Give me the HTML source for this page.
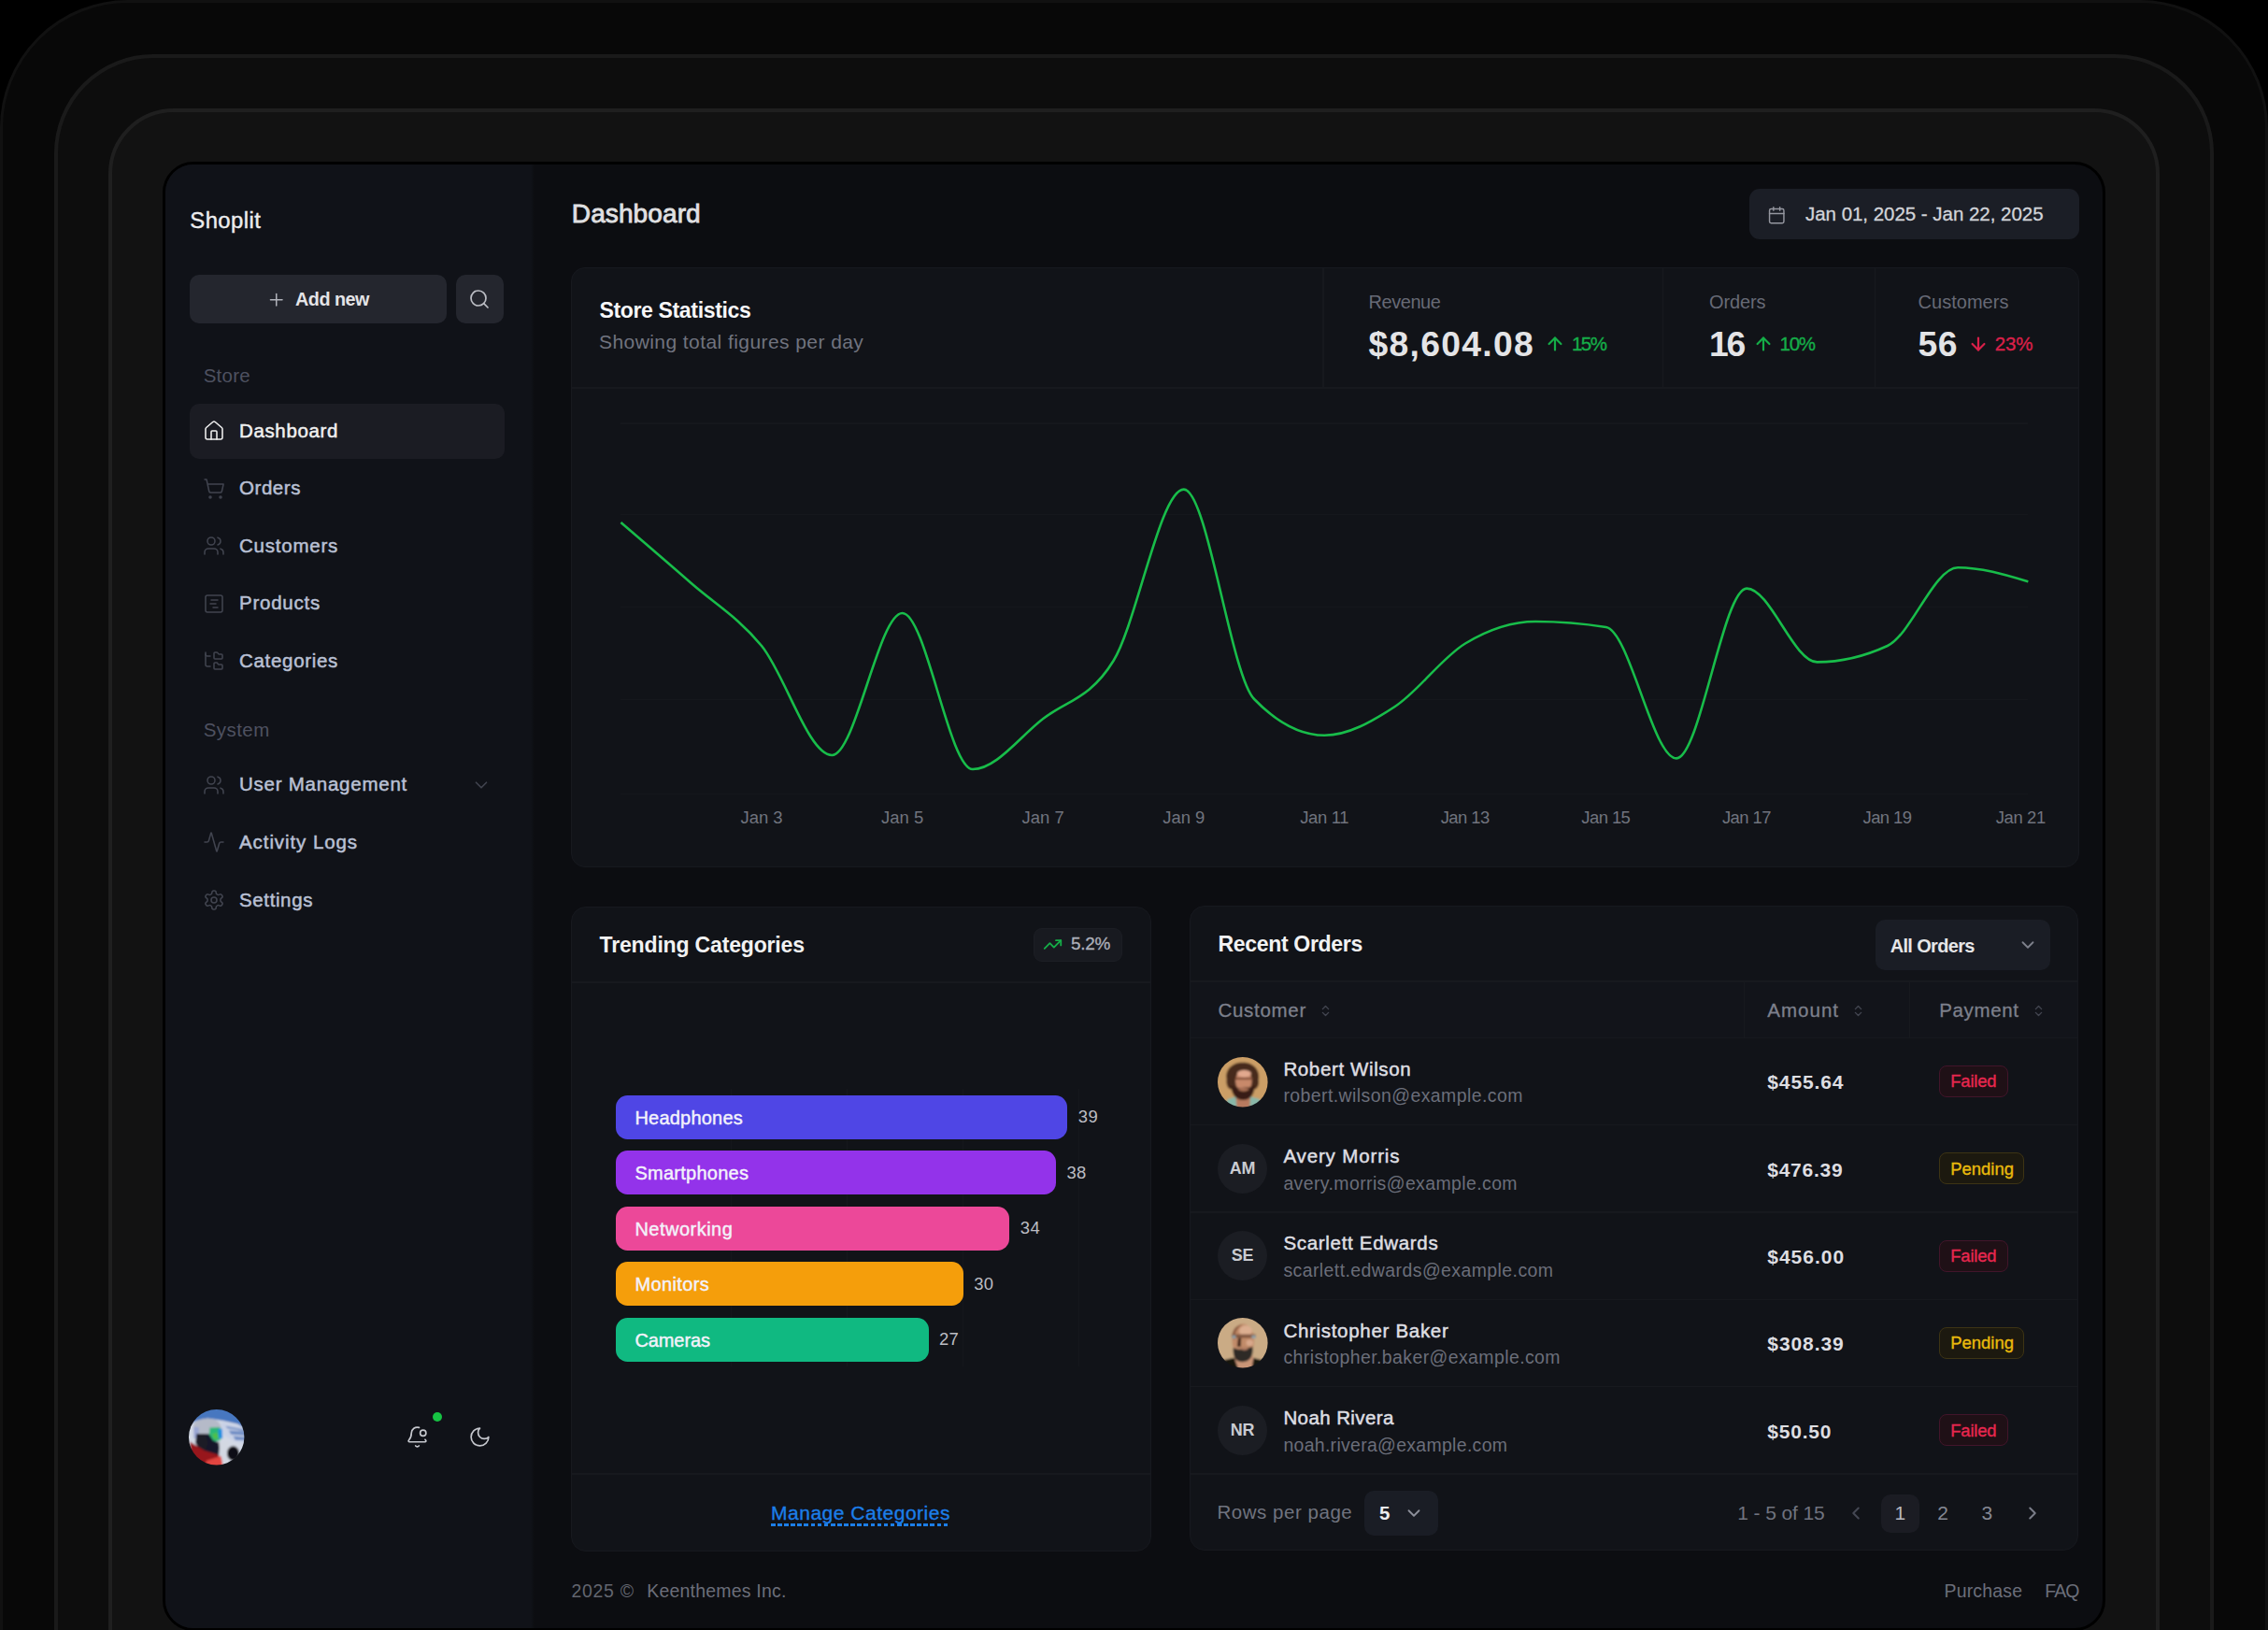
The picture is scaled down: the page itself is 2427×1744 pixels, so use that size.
<!DOCTYPE html>
<html lang="en"><head><meta charset="utf-8"><title>Shoplit Dashboard</title>
<style>
html,body{margin:0;padding:0;background:#000;width:2427px;height:1744px;overflow:hidden;}
body{position:relative;font-family:"Liberation Sans", sans-serif;}
#root{position:absolute;left:0;top:0;width:2427px;height:1744px;overflow:hidden;background:#000;}
.a{position:absolute;box-sizing:border-box;}
.t{position:absolute;line-height:1;white-space:nowrap;font-family:"Liberation Sans", sans-serif;}
svg{display:block;overflow:visible;}
</style></head>
<body>
<div id="root">
<div class="a" style="left:0.0px;top:0.0px;width:2427.0px;height:2000.0px;background:#080808;border-radius:137px;border:3.8px solid #111111;"></div>
<div class="a" style="left:58.0px;top:58.0px;width:2311.0px;height:2000.0px;background:#0d0d0d;border-radius:106px;border:4.2px solid #1a1a1a;"></div>
<div class="a" style="left:116.0px;top:116.0px;width:2195.0px;height:2000.0px;background:#121212;border-radius:70px;border:4.2px solid #1f1f1f;"></div>
<div class="a" style="left:173.5px;top:173.4px;width:2079.8px;height:1571.4px;border:3.5px solid #000;border-radius:33px;background:#0c0d11;overflow:hidden;"><div class="a" style="left:0;top:0;width:395px;height:100%;background:linear-gradient(90deg,#101218 0,#101218 391px,#0c0d11 395px);"></div></div>
<div class="t" style="top:223.6px;font-size:23.88px;font-weight:400;color:#ededee;letter-spacing:0.43px;-webkit-text-stroke:0.4px #ededee;left:203.3px;">Shoplit</div>
<div class="a" style="left:203.3px;top:293.8px;width:275.0px;height:52.4px;background:#24262e;border-radius:10px;"></div>
<div class="a" style="left:487.7px;top:293.8px;width:51.6px;height:52.4px;background:#24262e;border-radius:10px;"></div>
<svg class="a" style="left:285.2px;top:309.9px;" width="21.5" height="21.5" viewBox="0 0 24 24" fill="none" stroke="#b0b2ba" stroke-width="1.7" stroke-linecap="round" stroke-linejoin="round"><path d="M5 12h14"/><path d="M12 5v14"/></svg>
<div class="t" style="top:310.9px;font-size:19.78px;font-weight:700;color:#e4e4e7;letter-spacing:-0.48px;left:316.0px;">Add new</div>
<svg class="a" style="left:501.3px;top:308.2px;" width="24" height="24" viewBox="0 0 24 24" fill="none" stroke="#bcbec5" stroke-width="1.7" stroke-linecap="round" stroke-linejoin="round"><circle cx="11" cy="11" r="8"/><path d="m21 21-4.3-4.3"/></svg>
<div class="t" style="top:391.5px;font-size:20.5px;font-weight:400;color:#4e5160;letter-spacing:0.26px;left:217.7px;">Store</div>
<div class="a" style="left:203.0px;top:431.5px;width:337.0px;height:59.0px;background:#1b1c23;border-radius:10px;"></div>
<svg class="a" style="left:217.1px;top:449.0px;" width="24" height="24" viewBox="0 0 24 24" fill="none" stroke="#f0f0f0" stroke-width="1.55" stroke-linecap="round" stroke-linejoin="round"><path d="M15 21v-8a1 1 0 0 0-1-1h-4a1 1 0 0 0-1 1v8"/><path d="M3 10a2 2 0 0 1 .709-1.528l7-5.999a2 2 0 0 1 2.582 0l7 5.999A2 2 0 0 1 21 10v9a2 2 0 0 1-2 2H5a2 2 0 0 1-2-2z"/></svg>
<div class="t" style="top:450.7px;font-size:20.5px;font-weight:400;color:#f0f0f0;letter-spacing:0.63px;-webkit-text-stroke:0.5px #f0f0f0;left:256.0px;">Dashboard</div>
<svg class="a" style="left:217.1px;top:510.6px;" width="24" height="24" viewBox="0 0 24 24" fill="none" stroke="#41444f" stroke-width="1.55" stroke-linecap="round" stroke-linejoin="round"><circle cx="8" cy="21" r="1"/><circle cx="19" cy="21" r="1"/><path d="M2.05 2.05h2l2.66 12.42a2 2 0 0 0 2 1.58h9.78a2 2 0 0 0 1.95-1.57l1.65-7.43H5.12"/></svg>
<div class="t" style="top:512.3px;font-size:20.5px;font-weight:400;color:#b9c0d4;letter-spacing:0.56px;-webkit-text-stroke:0.5px #b9c0d4;left:256.0px;">Orders</div>
<svg class="a" style="left:217.1px;top:572.1px;" width="24" height="24" viewBox="0 0 24 24" fill="none" stroke="#41444f" stroke-width="1.55" stroke-linecap="round" stroke-linejoin="round"><path d="M16 21v-2a4 4 0 0 0-4-4H6a4 4 0 0 0-4 4v2"/><circle cx="9" cy="7" r="4"/><path d="M22 21v-2a4 4 0 0 0-3-3.87"/><path d="M16 3.13a4 4 0 0 1 0 7.75"/></svg>
<div class="t" style="top:573.8px;font-size:20.5px;font-weight:400;color:#b9c0d4;letter-spacing:0.77px;-webkit-text-stroke:0.5px #b9c0d4;left:256.0px;">Customers</div>
<svg class="a" style="left:217.1px;top:633.7px;" width="24" height="24" viewBox="0 0 24 24" fill="none" stroke="#41444f" stroke-width="1.55" stroke-linecap="round" stroke-linejoin="round"><rect width="18" height="18" x="3" y="3" rx="2"/><path d="M9 8h7"/><path d="M8 12h6"/><path d="M11 16h5"/></svg>
<div class="t" style="top:635.4px;font-size:20.5px;font-weight:400;color:#b9c0d4;letter-spacing:0.76px;-webkit-text-stroke:0.5px #b9c0d4;left:256.0px;">Products</div>
<svg class="a" style="left:217.1px;top:695.2px;" width="24" height="24" viewBox="0 0 24 24" fill="none" stroke="#41444f" stroke-width="1.55" stroke-linecap="round" stroke-linejoin="round"><path d="M20 10a1 1 0 0 0 1-1V6a1 1 0 0 0-1-1h-2.5a1 1 0 0 1-.8-.4l-.9-1.2A1 1 0 0 0 15 3h-2a1 1 0 0 0-1 1v5a1 1 0 0 0 1 1Z"/><path d="M20 21a1 1 0 0 0 1-1v-3a1 1 0 0 0-1-1h-2.9a1 1 0 0 1-.88-.55l-.42-.85a1 1 0 0 0-.92-.6H13a1 1 0 0 0-1 1v5a1 1 0 0 0 1 1Z"/><path d="M3 5a2 2 0 0 0 2 2h3"/><path d="M3 3v13a2 2 0 0 0 2 2h3"/></svg>
<div class="t" style="top:696.9px;font-size:20.5px;font-weight:400;color:#b9c0d4;letter-spacing:0.69px;-webkit-text-stroke:0.5px #b9c0d4;left:256.0px;">Categories</div>
<svg class="a" style="left:217.1px;top:827.7px;" width="24" height="24" viewBox="0 0 24 24" fill="none" stroke="#41444f" stroke-width="1.55" stroke-linecap="round" stroke-linejoin="round"><path d="M16 21v-2a4 4 0 0 0-4-4H6a4 4 0 0 0-4 4v2"/><circle cx="9" cy="7" r="4"/><path d="M22 21v-2a4 4 0 0 0-3-3.87"/><path d="M16 3.13a4 4 0 0 1 0 7.75"/></svg>
<div class="t" style="top:829.4px;font-size:20.5px;font-weight:400;color:#b9c0d4;letter-spacing:0.76px;-webkit-text-stroke:0.5px #b9c0d4;left:256.0px;">User Management</div>
<svg class="a" style="left:217.1px;top:889.3px;" width="24" height="24" viewBox="0 0 24 24" fill="none" stroke="#41444f" stroke-width="1.55" stroke-linecap="round" stroke-linejoin="round"><path d="M22 12h-2.48a2 2 0 0 0-1.93 1.46l-2.35 8.36a.25.25 0 0 1-.48 0L9.24 2.18a.25.25 0 0 0-.48 0l-2.35 8.36A2 2 0 0 1 4.49 12H2"/></svg>
<div class="t" style="top:891.0px;font-size:20.5px;font-weight:400;color:#b9c0d4;letter-spacing:0.92px;-webkit-text-stroke:0.5px #b9c0d4;left:256.0px;">Activity Logs</div>
<svg class="a" style="left:217.1px;top:951.0px;" width="24" height="24" viewBox="0 0 24 24" fill="none" stroke="#41444f" stroke-width="1.55" stroke-linecap="round" stroke-linejoin="round"><path d="M12.22 2h-.44a2 2 0 0 0-2 2v.18a2 2 0 0 1-1 1.73l-.43.25a2 2 0 0 1-2 0l-.15-.08a2 2 0 0 0-2.73.73l-.22.38a2 2 0 0 0 .73 2.73l.15.1a2 2 0 0 1 1 1.72v.51a2 2 0 0 1-1 1.74l-.15.09a2 2 0 0 0-.73 2.73l.22.38a2 2 0 0 0 2.73.73l.15-.08a2 2 0 0 1 2 0l.43.25a2 2 0 0 1 1 1.73V20a2 2 0 0 0 2 2h.44a2 2 0 0 0 2-2v-.18a2 2 0 0 1 1-1.73l.43-.25a2 2 0 0 1 2 0l.15.08a2 2 0 0 0 2.73-.73l.22-.39a2 2 0 0 0-.73-2.73l-.15-.08a2 2 0 0 1-1-1.74v-.5a2 2 0 0 1 1-1.74l.15-.09a2 2 0 0 0 .73-2.73l-.22-.38a2 2 0 0 0-2.73-.73l-.15.08a2 2 0 0 1-2 0l-.43-.25a2 2 0 0 1-1-1.73V4a2 2 0 0 0-2-2z"/><circle cx="12" cy="12" r="3"/></svg>
<div class="t" style="top:952.7px;font-size:20.5px;font-weight:400;color:#b9c0d4;letter-spacing:0.62px;-webkit-text-stroke:0.5px #b9c0d4;left:256.0px;">Settings</div>
<div class="t" style="top:770.5px;font-size:20.5px;font-weight:400;color:#4e5160;letter-spacing:0.44px;left:217.7px;">System</div>
<svg class="a" style="left:504.3px;top:829.0px;" width="22" height="22" viewBox="0 0 24 24" fill="none" stroke="#41444f" stroke-width="1.8" stroke-linecap="round" stroke-linejoin="round"><path d="m6 9 6 6 6-6"/></svg>
<svg class="a" style="left:202.3px;top:1508.3px" width="59.4" height="59.4" viewBox="0 0 100 100">
<defs><clipPath id="cpa"><circle cx="50" cy="50" r="50"/></clipPath><filter id="bla" x="-10%" y="-10%" width="120%" height="120%"><feGaussianBlur stdDeviation="1.6"/></filter></defs>
<g clip-path="url(#cpa)"><g filter="url(#bla)">
<rect x="-5" y="-5" width="110" height="110" fill="#d3d9e5"/>
<path d="M-5 -5H105V36L88 26 62 20 34 16 14 20-5 30Z" fill="#4777c0"/>
<path d="M58 22 105 34V64L78 56 60 44Z" fill="#c9d2e6"/>
<path d="M72 38 105 40v7L76 45Z M80 48 105 50v6L84 55Z M66 30 100 36v3L70 34Z" fill="#6e8cc4"/>
<path d="M8 30C10 18 30 14 46 18 58 22 60 34 58 42L30 46 10 46Z" fill="#b5bac8"/>
<path d="M9 32h9v20H9Z" fill="#9aa6d4"/>
<path d="M38 33 56 32 60 50 56 56 44 58 36 50Z" fill="#2cb878"/>
<path d="M42 44 52 42 54 52 46 54Z" fill="#4fc04a"/>
<path d="M53 35h7l1 17h-7Z" fill="#1b8fe2"/>
<path d="M14 44 36 44 44 56 56 60 54 84 22 78 12 60Z" fill="#15192a"/>
<path d="M14 44 30 44 34 60 30 74 16 66Z" fill="#1d1f26"/>
<path d="M2 58 28 74 54 82 62 105H4Z" fill="#98171a"/>
<path d="M32 92 58 84 78 105H28Z" fill="#e2453f"/>
<path d="M54 60 72 56 76 105H62Z" fill="#d3d8e2"/>
<ellipse cx="80" cy="79" rx="11" ry="13" fill="#0f0f14"/>
</g></g></svg>
<svg class="a" style="left:434.0px;top:1525.0px;" width="25" height="25" viewBox="0 0 24 24" fill="none" stroke="#c6c8ce" stroke-width="1.6" stroke-linecap="round" stroke-linejoin="round"><path d="M10.268 21a2 2 0 0 0 3.464 0"/><path d="M13.916 2.314A6 6 0 0 0 6 8c0 4.499-1.411 5.956-2.74 7.327A1 1 0 0 0 4 17h16a1 1 0 0 0 .74-1.673 9 9 0 0 1-.585-.665"/><circle cx="18" cy="8" r="3"/></svg>
<div class="a" style="left:463.3px;top:1511.3px;width:9.4px;height:9.4px;background:#16c343;border-radius:5px;"></div>
<svg class="a" style="left:501.0px;top:1525.3px;" width="25" height="25" viewBox="0 0 24 24" fill="none" stroke="#c6c8ce" stroke-width="1.6" stroke-linecap="round" stroke-linejoin="round"><path d="M12 3a6 6 0 0 0 9 9 9 9 0 1 1-9-9Z"/></svg>
<div class="t" style="top:215.1px;font-size:28.08px;font-weight:400;color:#e0e0e2;letter-spacing:0.07px;-webkit-text-stroke:0.8px #e0e0e2;left:611.8px;">Dashboard</div>
<div class="a" style="left:1872.0px;top:202.2px;width:353.0px;height:53.6px;background:#1b1e26;border-radius:11px;"></div>
<svg class="a" style="left:1891.2px;top:219.6px;" width="20.5" height="20.5" viewBox="0 0 24 24" fill="none" stroke="#9597a0" stroke-width="1.7" stroke-linecap="round" stroke-linejoin="round"><path d="M8 2v4"/><path d="M16 2v4"/><rect width="18" height="18" x="3" y="4" rx="2"/><path d="M3 10h18"/></svg>
<div class="t" style="top:219.2px;font-size:20.5px;font-weight:400;color:#d2d4d9;letter-spacing:-0.03px;-webkit-text-stroke:0.3px #d2d4d9;left:1932.0px;">Jan 01, 2025 - Jan 22, 2025</div>
<div class="a" style="left:611.0px;top:285.5px;width:1614.0px;height:642.3px;background:#111318;border-radius:15px;border:1px solid #17191f;"></div>
<div class="a" style="left:612.0px;top:414.4px;width:1612.0px;height:1.2px;background:#17191e;"></div>
<div class="a" style="left:1415.4px;top:286.5px;width:1.2px;height:128.5px;background:#17191e;"></div>
<div class="a" style="left:1779.1px;top:286.5px;width:1.2px;height:128.5px;background:#17191e;"></div>
<div class="a" style="left:2006.1px;top:286.5px;width:1.2px;height:128.5px;background:#17191e;"></div>
<div class="t" style="top:320.7px;font-size:23.06px;font-weight:700;color:#f7f7f8;letter-spacing:-0.36px;left:641.4px;">Store Statistics</div>
<div class="t" style="top:355.4px;font-size:21.01px;font-weight:400;color:#70737f;letter-spacing:0.43px;left:641.0px;">Showing total figures per day</div>
<div class="t" style="top:313.0px;font-size:19.99px;font-weight:400;color:#676a76;letter-spacing:-0.46px;left:1464.6px;">Revenue</div>
<div class="t" style="top:350.3px;font-size:37.31px;font-weight:700;color:#e4e4e6;letter-spacing:1.27px;left:1464.6px;">$8,604.08</div>
<svg class="a" style="left:1653.0px;top:356.6px;" width="22" height="22" viewBox="0 0 24 24" fill="none" stroke="#15ad48" stroke-width="2.4" stroke-linecap="round" stroke-linejoin="round"><path d="m5 12 7-7 7 7"/><path d="M12 19V5"/></svg>
<div class="t" style="top:357.8px;font-size:20.5px;font-weight:400;color:#15ad48;letter-spacing:-1.54px;-webkit-text-stroke:0.35px #15ad48;left:1682.0px;">15%</div>
<div class="t" style="top:313.0px;font-size:19.99px;font-weight:400;color:#676a76;letter-spacing:-0.10px;left:1829.0px;">Orders</div>
<div class="t" style="top:350.3px;font-size:37.31px;font-weight:700;color:#e4e4e6;letter-spacing:-2.20px;left:1829.0px;">16</div>
<svg class="a" style="left:1875.5px;top:356.6px;" width="22" height="22" viewBox="0 0 24 24" fill="none" stroke="#15ad48" stroke-width="2.4" stroke-linecap="round" stroke-linejoin="round"><path d="m5 12 7-7 7 7"/><path d="M12 19V5"/></svg>
<div class="t" style="top:357.8px;font-size:20.5px;font-weight:400;color:#15ad48;letter-spacing:-1.34px;-webkit-text-stroke:0.35px #15ad48;left:1904.6px;">10%</div>
<div class="t" style="top:313.0px;font-size:19.99px;font-weight:400;color:#676a76;letter-spacing:0.04px;left:2052.5px;">Customers</div>
<div class="t" style="top:350.3px;font-size:37.31px;font-weight:700;color:#e4e4e6;letter-spacing:0.50px;left:2052.5px;">56</div>
<svg class="a" style="left:2105.7px;top:356.6px;" width="22" height="22" viewBox="0 0 24 24" fill="none" stroke="#d92049" stroke-width="2.4" stroke-linecap="round" stroke-linejoin="round"><path d="M12 5v14"/><path d="m19 12-7 7-7-7"/></svg>
<div class="t" style="top:357.8px;font-size:20.5px;font-weight:400;color:#d92049;letter-spacing:-0.08px;-webkit-text-stroke:0.35px #d92049;left:2134.7px;">23%</div>
<div class="a" style="left:664.4px;top:452.4px;width:1506.0px;height:1.2px;background:#15171c;"></div>
<div class="a" style="left:664.4px;top:549.9px;width:1506.0px;height:1.2px;background:#15171c;"></div>
<div class="a" style="left:664.4px;top:648.9px;width:1506.0px;height:1.2px;background:#15171c;"></div>
<div class="a" style="left:664.4px;top:747.9px;width:1506.0px;height:1.2px;background:#15171c;"></div>
<div class="a" style="left:664.4px;top:848.9px;width:1506.0px;height:1.2px;background:#15171c;"></div>
<svg class="a" style="left:0;top:0" width="2427" height="1744" viewBox="0 0 2427 1744"><path d="M664.4 559.0C689.5 580.5 714.6 602.0 739.7 624.0C764.8 646.0 789.9 660.3 815.0 691.0C840.1 721.7 865.2 808.0 890.3 808.0C915.4 808.0 940.5 656.0 965.6 656.0C990.7 656.0 1015.8 823.0 1040.9 823.0C1066.0 823.0 1091.1 788.3 1116.2 769.0C1141.3 749.7 1166.4 747.9 1191.5 707.0C1216.6 666.1 1241.7 523.6 1266.8 523.6C1291.9 523.6 1317.0 722.1 1342.1 748.0C1367.2 773.9 1392.3 786.8 1417.4 786.8C1442.5 786.8 1467.6 772.4 1492.7 756.0C1517.8 739.6 1542.9 703.7 1568.0 688.5C1593.1 673.3 1618.2 665.0 1643.3 665.0C1668.4 665.0 1693.5 667.0 1718.6 671.0C1743.7 675.0 1768.8 811.4 1793.9 811.4C1819.0 811.4 1844.1 629.6 1869.2 629.6C1894.3 629.6 1919.4 708.4 1944.5 708.4C1969.6 708.4 1994.7 702.6 2019.8 691.0C2044.9 679.4 2070.0 607.2 2095.1 607.2C2120.2 607.2 2145.3 614.8 2170.4 622.3" fill="none" stroke="#18bd4a" stroke-width="2.6" stroke-linecap="butt" stroke-linejoin="round"/></svg>
<div class="t" style="top:865.7px;font-size:18.45px;font-weight:400;color:#70737e;letter-spacing:0.02px;left:815.0px;transform:translateX(-50%);">Jan 3</div>
<div class="t" style="top:865.7px;font-size:18.45px;font-weight:400;color:#70737e;letter-spacing:0.02px;left:965.6px;transform:translateX(-50%);">Jan 5</div>
<div class="t" style="top:865.7px;font-size:18.45px;font-weight:400;color:#70737e;letter-spacing:0.02px;left:1116.2px;transform:translateX(-50%);">Jan 7</div>
<div class="t" style="top:865.7px;font-size:18.45px;font-weight:400;color:#70737e;letter-spacing:0.02px;left:1266.8px;transform:translateX(-50%);">Jan 9</div>
<div class="t" style="top:865.7px;font-size:18.45px;font-weight:400;color:#70737e;letter-spacing:-0.33px;left:1417.2px;transform:translateX(-50%);">Jan 11</div>
<div class="t" style="top:865.7px;font-size:18.45px;font-weight:400;color:#70737e;letter-spacing:-0.56px;left:1567.7px;transform:translateX(-50%);">Jan 13</div>
<div class="t" style="top:865.7px;font-size:18.45px;font-weight:400;color:#70737e;letter-spacing:-0.56px;left:1718.3px;transform:translateX(-50%);">Jan 15</div>
<div class="t" style="top:865.7px;font-size:18.45px;font-weight:400;color:#70737e;letter-spacing:-0.56px;left:1868.9px;transform:translateX(-50%);">Jan 17</div>
<div class="t" style="top:865.7px;font-size:18.45px;font-weight:400;color:#70737e;letter-spacing:-0.56px;left:2019.5px;transform:translateX(-50%);">Jan 19</div>
<div class="t" style="top:865.7px;font-size:18.45px;font-weight:400;color:#70737e;letter-spacing:-0.39px;left:2162.3px;transform:translateX(-50%);">Jan 21</div>
<div class="a" style="left:611.0px;top:969.5px;width:621.0px;height:690.0px;background:#111318;border-radius:16px;border:1px solid #17191f;"></div>
<div class="a" style="left:612.0px;top:1050.4px;width:619.0px;height:1.2px;background:#17191e;"></div>
<div class="a" style="left:612.0px;top:1576.4px;width:619.0px;height:1.2px;background:#17191e;"></div>
<div class="t" style="top:999.7px;font-size:23.06px;font-weight:700;color:#f2f2f3;letter-spacing:-0.19px;left:641.6px;">Trending Categories</div>
<div class="a" style="left:1106.2px;top:993.2px;width:95.2px;height:35.4px;background:#181a20;border-radius:9px;border:1px solid #1c1e24;"></div>
<svg class="a" style="left:1116.3px;top:1000.3px;" width="21" height="21" viewBox="0 0 24 24" fill="none" stroke="#15ad48" stroke-width="2.1" stroke-linecap="round" stroke-linejoin="round"><polyline points="22 7 13.5 15.5 8.5 10.5 2 17"/><polyline points="16 7 22 7 22 13"/></svg>
<div class="t" style="top:1001.3px;font-size:18.96px;font-weight:400;color:#adb0ba;letter-spacing:-0.29px;-webkit-text-stroke:0.3px #adb0ba;left:1146.0px;">5.2%</div>
<div class="a" style="left:782.2px;top:1165.0px;width:1.2px;height:297.0px;background:#15171c;"></div>
<div class="a" style="left:906.2px;top:1165.0px;width:1.2px;height:297.0px;background:#15171c;"></div>
<div class="a" style="left:1030.2px;top:1165.0px;width:1.2px;height:297.0px;background:#15171c;"></div>
<div class="a" style="left:1154.2px;top:1165.0px;width:1.2px;height:297.0px;background:#15171c;"></div>
<div class="a" style="left:658.8px;top:1172.0px;width:483.6px;height:47.1px;background:#4f46e5;border-radius:12.5px;"></div>
<div class="t" style="top:1185.9px;font-size:19.99px;font-weight:400;color:#f3f2fb;letter-spacing:0.22px;-webkit-text-stroke:0.45px #f3f2fb;left:679.4px;">Headphones</div>
<div class="t" style="top:1186.3px;font-size:18.45px;font-weight:400;color:#bcbdc3;letter-spacing:0.34px;left:1153.8px;">39</div>
<div class="a" style="left:658.8px;top:1231.4px;width:471.2px;height:47.1px;background:#9333ea;border-radius:12.5px;"></div>
<div class="t" style="top:1245.3px;font-size:19.99px;font-weight:400;color:#f3f2fb;letter-spacing:0.27px;-webkit-text-stroke:0.45px #f3f2fb;left:679.4px;">Smartphones</div>
<div class="t" style="top:1245.7px;font-size:18.45px;font-weight:400;color:#bcbdc3;letter-spacing:0.34px;left:1141.4px;">38</div>
<div class="a" style="left:658.8px;top:1290.8px;width:421.6px;height:47.1px;background:#ec4899;border-radius:12.5px;"></div>
<div class="t" style="top:1304.7px;font-size:19.99px;font-weight:400;color:#f3f2fb;letter-spacing:0.50px;-webkit-text-stroke:0.45px #f3f2fb;left:679.4px;">Networking</div>
<div class="t" style="top:1305.1px;font-size:18.45px;font-weight:400;color:#bcbdc3;letter-spacing:0.34px;left:1091.8px;">34</div>
<div class="a" style="left:658.8px;top:1350.2px;width:372.0px;height:47.1px;background:#f59e0b;border-radius:12.5px;"></div>
<div class="t" style="top:1364.1px;font-size:19.99px;font-weight:400;color:#f3f2fb;letter-spacing:0.38px;-webkit-text-stroke:0.45px #f3f2fb;left:679.4px;">Monitors</div>
<div class="t" style="top:1364.5px;font-size:18.45px;font-weight:400;color:#bcbdc3;letter-spacing:0.34px;left:1042.2px;">30</div>
<div class="a" style="left:658.8px;top:1409.6px;width:334.8px;height:47.1px;background:#10b981;border-radius:12.5px;"></div>
<div class="t" style="top:1423.5px;font-size:19.99px;font-weight:400;color:#f3f2fb;letter-spacing:-0.08px;-webkit-text-stroke:0.45px #f3f2fb;left:679.4px;">Cameras</div>
<div class="t" style="top:1423.9px;font-size:18.45px;font-weight:400;color:#bcbdc3;letter-spacing:0.34px;left:1005.0px;">27</div>
<div class="t" style="top:1608.1px;font-size:21.01px;font-weight:400;color:#1c7ee8;letter-spacing:0.51px;-webkit-text-stroke:0.35px #1c7ee8;left:825.0px;">Manage Categories</div>
<div class="a" style="left:825px;top:1630.4px;width:192px;height:2.2px;background:repeating-linear-gradient(90deg,#1c7ee8 0 4.6px,transparent 4.6px 7.1px);"></div>
<div class="a" style="left:1273.2px;top:969.0px;width:951.2px;height:690.4px;background:#111318;border-radius:16px;border:1px solid #17191f;"></div>
<div class="t" style="top:999.3px;font-size:23.06px;font-weight:700;color:#f2f2f3;letter-spacing:-0.33px;left:1303.4px;">Recent Orders</div>
<div class="a" style="left:2007.0px;top:984.3px;width:187.0px;height:53.8px;background:#1a1d25;border-radius:10px;"></div>
<div class="t" style="top:1001.8px;font-size:19.99px;font-weight:700;color:#e6e6e8;letter-spacing:-0.66px;left:2022.7px;">All Orders</div>
<svg class="a" style="left:2158.5px;top:1000.3px;" width="22" height="22" viewBox="0 0 24 24" fill="none" stroke="#7d808b" stroke-width="2" stroke-linecap="round" stroke-linejoin="round"><path d="m6 9 6 6 6-6"/></svg>
<div class="a" style="left:1274.2px;top:1050.0px;width:949.2px;height:60.3px;background:#12141a;"></div>
<div class="a" style="left:1274.2px;top:1049.4px;width:949.2px;height:1.2px;background:#17191e;"></div>
<div class="a" style="left:1274.2px;top:1109.7px;width:949.2px;height:1.2px;background:#17191e;"></div>
<div class="a" style="left:1274.2px;top:1203.0px;width:949.2px;height:1.2px;background:#17191e;"></div>
<div class="a" style="left:1274.2px;top:1296.4px;width:949.2px;height:1.2px;background:#17191e;"></div>
<div class="a" style="left:1274.2px;top:1389.9px;width:949.2px;height:1.2px;background:#17191e;"></div>
<div class="a" style="left:1274.2px;top:1482.9px;width:949.2px;height:1.2px;background:#17191e;"></div>
<div class="a" style="left:1274.2px;top:1576.4px;width:949.2px;height:1.2px;background:#17191e;"></div>
<div class="a" style="left:1866.1px;top:1050.0px;width:1.2px;height:60.3px;background:#17191e;"></div>
<div class="a" style="left:2042.9px;top:1050.0px;width:1.2px;height:60.3px;background:#17191e;"></div>
<div class="t" style="top:1071.0px;font-size:20.5px;font-weight:400;color:#7d808c;letter-spacing:0.71px;-webkit-text-stroke:0.3px #7d808c;left:1303.4px;">Customer</div>
<svg class="a" style="left:1410.9px;top:1074.3px;" width="15" height="15" viewBox="0 0 24 24" fill="none" stroke="#434651" stroke-width="2.2" stroke-linecap="round" stroke-linejoin="round"><path d="m7 15 5 5 5-5"/><path d="m7 9 5-5 5 5"/></svg>
<div class="t" style="top:1071.0px;font-size:20.5px;font-weight:400;color:#7d808c;letter-spacing:1.01px;-webkit-text-stroke:0.3px #7d808c;left:1891.3px;">Amount</div>
<svg class="a" style="left:1981.0px;top:1074.3px;" width="15" height="15" viewBox="0 0 24 24" fill="none" stroke="#434651" stroke-width="2.2" stroke-linecap="round" stroke-linejoin="round"><path d="m7 15 5 5 5-5"/><path d="m7 9 5-5 5 5"/></svg>
<div class="t" style="top:1071.0px;font-size:20.5px;font-weight:400;color:#7d808c;letter-spacing:0.66px;-webkit-text-stroke:0.3px #7d808c;left:2075.2px;">Payment</div>
<svg class="a" style="left:2173.7px;top:1074.3px;" width="15" height="15" viewBox="0 0 24 24" fill="none" stroke="#434651" stroke-width="2.2" stroke-linecap="round" stroke-linejoin="round"><path d="m7 15 5 5 5-5"/><path d="m7 9 5-5 5 5"/></svg>
<svg class="a" style="left:1302.8px;top:1130.7px" width="53.6" height="53.6" viewBox="0 0 100 100">
<defs><clipPath id="cpb"><circle cx="50" cy="50" r="50"/></clipPath><filter id="blb" x="-10%" y="-10%" width="120%" height="120%"><feGaussianBlur stdDeviation="1.7"/></filter></defs>
<g clip-path="url(#cpb)"><g filter="url(#blb)">
<rect x="-5" y="-5" width="110" height="110" fill="#cb9e66"/>
<path d="M20 84 40 78 62 78 84 84 92 105H10Z" fill="#88b7a8"/>
<path d="M36 70H66L64 105H38Z" fill="#b87a5e"/>
<path d="M18 44C14 26 30 10 50 11 70 10 86 26 82 46 84 58 76 66 72 64L28 64C22 66 16 56 18 44Z" fill="#47291a"/>
<ellipse cx="52" cy="48" rx="16.5" ry="21" fill="#c8896b"/>
<ellipse cx="53" cy="33" rx="14" ry="7" fill="#e2a98e"/>
<path d="M35 41H70V45H35Z" fill="#7a4a35"/>
<path d="M27 56C32 62 40 62 51 61S70 62 74 56C74 78 62 86 51 86S27 78 27 56Z" fill="#391f12"/>
<path d="M40 64C46 61 58 61 63 64 60 70 44 70 40 64Z" fill="#a96f55"/>
</g></g></svg>
<div class="t" style="top:1133.6px;font-size:20.5px;font-weight:400;color:#dedee2;letter-spacing:0.63px;-webkit-text-stroke:0.5px #dedee2;left:1373.4px;">Robert Wilson</div>
<div class="t" style="top:1163.3px;font-size:19.47px;font-weight:400;color:#6b6e7a;letter-spacing:0.43px;left:1373.4px;">robert.wilson@example.com</div>
<div class="t" style="top:1147.1px;font-size:21.01px;font-weight:700;color:#dedee2;letter-spacing:0.87px;left:1891.3px;">$455.64</div>
<div class="a" style="left:2074.8px;top:1139.8px;width:74.0px;height:34.4px;background:#1f1016;border-radius:8px;border:1.3px solid #42152a;"></div>
<div class="t" style="top:1148.2px;font-size:18.45px;font-weight:400;color:#e8274f;letter-spacing:-0.20px;-webkit-text-stroke:0.35px #e8274f;left:2087.3px;">Failed</div>
<div class="a" style="left:1302.8px;top:1223.5px;width:53.6px;height:53.6px;background:#1b1d23;border-radius:26.8px;"></div>
<div class="t" style="top:1241.9px;font-size:17.94px;font-weight:700;color:#c9cbd1;left:1329.6px;transform:translateX(-50%);">AM</div>
<div class="t" style="top:1226.9px;font-size:20.5px;font-weight:400;color:#dedee2;letter-spacing:0.86px;-webkit-text-stroke:0.5px #dedee2;left:1373.4px;">Avery Morris</div>
<div class="t" style="top:1256.6px;font-size:19.47px;font-weight:400;color:#6b6e7a;letter-spacing:0.40px;left:1373.4px;">avery.morris@example.com</div>
<div class="t" style="top:1240.5px;font-size:21.01px;font-weight:700;color:#dedee2;letter-spacing:0.73px;left:1891.3px;">$476.39</div>
<div class="a" style="left:2074.8px;top:1233.1px;width:91.7px;height:34.4px;background:#1c190f;border-radius:8px;border:1.3px solid #3d3414;"></div>
<div class="t" style="top:1241.5px;font-size:18.45px;font-weight:400;color:#e9b90c;-webkit-text-stroke:0.35px #e9b90c;left:2087.3px;">Pending</div>
<div class="a" style="left:1302.8px;top:1316.9px;width:53.6px;height:53.6px;background:#1b1d23;border-radius:26.8px;"></div>
<div class="t" style="top:1335.2px;font-size:17.94px;font-weight:700;color:#c9cbd1;left:1329.6px;transform:translateX(-50%);">SE</div>
<div class="t" style="top:1320.2px;font-size:20.5px;font-weight:400;color:#dedee2;letter-spacing:0.69px;-webkit-text-stroke:0.5px #dedee2;left:1373.4px;">Scarlett Edwards</div>
<div class="t" style="top:1349.9px;font-size:19.47px;font-weight:400;color:#6b6e7a;letter-spacing:0.43px;left:1373.4px;">scarlett.edwards@example.com</div>
<div class="t" style="top:1333.8px;font-size:21.01px;font-weight:700;color:#dedee2;letter-spacing:0.98px;left:1891.3px;">$456.00</div>
<div class="a" style="left:2074.8px;top:1326.5px;width:74.0px;height:34.4px;background:#1f1016;border-radius:8px;border:1.3px solid #42152a;"></div>
<div class="t" style="top:1334.8px;font-size:18.45px;font-weight:400;color:#e8274f;letter-spacing:-0.20px;-webkit-text-stroke:0.35px #e8274f;left:2087.3px;">Failed</div>
<svg class="a" style="left:1302.8px;top:1410.2px" width="53.6" height="53.6" viewBox="0 0 100 100">
<defs><clipPath id="cpc"><circle cx="50" cy="50" r="50"/></clipPath><filter id="blc" x="-10%" y="-10%" width="120%" height="120%"><feGaussianBlur stdDeviation="1.7"/></filter></defs>
<g clip-path="url(#cpc)"><g filter="url(#blc)">
<rect x="-5" y="-5" width="110" height="110" fill="#caab85"/>
<path d="M-5 88 30 80 72 80 105 88V105H-5Z" fill="#14130f"/>
<path d="M32 76H72L68 105H42Z" fill="#c99577"/>
<ellipse cx="51" cy="45" rx="22" ry="33" fill="#c18b69"/>
<path d="M29 40C28 26 36 14 50 13 40 18 34 28 34 44Z" fill="#8d5c42"/>
<ellipse cx="56" cy="26" rx="13" ry="11" fill="#dcae90"/>
<path d="M28 33H76V40H28Z" fill="#80563f"/>
<path d="M29 35H36V41H29Z M68 35H76V41H68Z" fill="#8fa3aa"/>
<path d="M41 40H47L46 58H39Z" fill="#3d2419"/>
<ellipse cx="64" cy="50" rx="7" ry="6" fill="#d9a98c"/>
<path d="M31 60C38 62 44 64 50 62S64 60 70 58C72 80 62 88 50 88S30 82 31 60Z" fill="#2d2a27"/>
<path d="M44 60C48 58 58 58 62 61 58 66 48 66 44 60Z" fill="#b07c62"/>
</g></g></svg>
<div class="t" style="top:1413.6px;font-size:20.5px;font-weight:400;color:#dedee2;letter-spacing:0.70px;-webkit-text-stroke:0.5px #dedee2;left:1373.4px;">Christopher Baker</div>
<div class="t" style="top:1443.3px;font-size:19.47px;font-weight:400;color:#6b6e7a;letter-spacing:0.41px;left:1373.4px;">christopher.baker@example.com</div>
<div class="t" style="top:1427.1px;font-size:21.01px;font-weight:700;color:#dedee2;letter-spacing:0.93px;left:1891.3px;">$308.39</div>
<div class="a" style="left:2074.8px;top:1419.8px;width:91.7px;height:34.4px;background:#1c190f;border-radius:8px;border:1.3px solid #3d3414;"></div>
<div class="t" style="top:1428.2px;font-size:18.45px;font-weight:400;color:#e9b90c;-webkit-text-stroke:0.35px #e9b90c;left:2087.3px;">Pending</div>
<div class="a" style="left:1302.8px;top:1503.5px;width:53.6px;height:53.6px;background:#1b1d23;border-radius:26.8px;"></div>
<div class="t" style="top:1521.9px;font-size:17.94px;font-weight:700;color:#c9cbd1;left:1329.6px;transform:translateX(-50%);">NR</div>
<div class="t" style="top:1506.9px;font-size:20.5px;font-weight:400;color:#dedee2;letter-spacing:0.41px;-webkit-text-stroke:0.5px #dedee2;left:1373.4px;">Noah Rivera</div>
<div class="t" style="top:1536.6px;font-size:19.47px;font-weight:400;color:#6b6e7a;letter-spacing:0.31px;left:1373.4px;">noah.rivera@example.com</div>
<div class="t" style="top:1520.5px;font-size:21.01px;font-weight:700;color:#dedee2;letter-spacing:0.79px;left:1891.3px;">$50.50</div>
<div class="a" style="left:2074.8px;top:1513.1px;width:74.0px;height:34.4px;background:#1f1016;border-radius:8px;border:1.3px solid #42152a;"></div>
<div class="t" style="top:1521.5px;font-size:18.45px;font-weight:400;color:#e8274f;letter-spacing:-0.20px;-webkit-text-stroke:0.35px #e8274f;left:2087.3px;">Failed</div>
<div class="t" style="top:1608.0px;font-size:20.5px;font-weight:400;color:#70737f;letter-spacing:0.53px;left:1302.5px;">Rows per page</div>
<div class="a" style="left:1460.0px;top:1595.2px;width:78.6px;height:47.8px;background:#1a1d25;border-radius:10px;"></div>
<div class="t" style="top:1608.7px;font-size:20.5px;font-weight:700;color:#ececee;left:1476.0px;">5</div>
<svg class="a" style="left:1502.4px;top:1608.0px;" width="22" height="22" viewBox="0 0 24 24" fill="none" stroke="#8d909b" stroke-width="2" stroke-linecap="round" stroke-linejoin="round"><path d="m6 9 6 6 6-6"/></svg>
<div class="t" style="top:1607.7px;font-size:21.01px;font-weight:400;color:#70737f;letter-spacing:-0.10px;left:1859.2px;">1 - 5 of 15</div>
<svg class="a" style="left:1975.0px;top:1607.8px;" width="22" height="22" viewBox="0 0 24 24" fill="none" stroke="#454853" stroke-width="2.2" stroke-linecap="round" stroke-linejoin="round"><path d="m15 18-6-6 6-6"/></svg>
<div class="a" style="left:2012.9px;top:1598.6px;width:41.0px;height:41.4px;background:#1b1c23;border-radius:10px;"></div>
<div class="t" style="top:1607.7px;font-size:21.01px;font-weight:400;color:#b6b8c0;left:2033.3px;transform:translateX(-50%);">1</div>
<div class="t" style="top:1607.7px;font-size:21.01px;font-weight:400;color:#858893;left:2079.2px;transform:translateX(-50%);">2</div>
<div class="t" style="top:1607.7px;font-size:21.01px;font-weight:400;color:#858893;left:2126.4px;transform:translateX(-50%);">3</div>
<svg class="a" style="left:2163.5px;top:1607.8px;" width="22" height="22" viewBox="0 0 24 24" fill="none" stroke="#7a7d88" stroke-width="2.2" stroke-linecap="round" stroke-linejoin="round"><path d="m9 18 6-6-6-6"/></svg>
<div class="t" style="top:1693.1px;font-size:19.47px;font-weight:400;color:#62656f;letter-spacing:0.71px;left:611.5px;">2025 &copy;</div>
<div class="t" style="top:1693.1px;font-size:19.47px;font-weight:400;color:#6b6e7a;letter-spacing:0.22px;left:692.3px;">Keenthemes Inc.</div>
<div class="t" style="top:1692.7px;font-size:19.47px;font-weight:400;color:#6b6e7a;letter-spacing:0.20px;left:2080.5px;">Purchase</div>
<div class="t" style="top:1692.7px;font-size:19.47px;font-weight:400;color:#6b6e7a;letter-spacing:-0.97px;left:2188.3px;">FAQ</div>
</div>
</body></html>
